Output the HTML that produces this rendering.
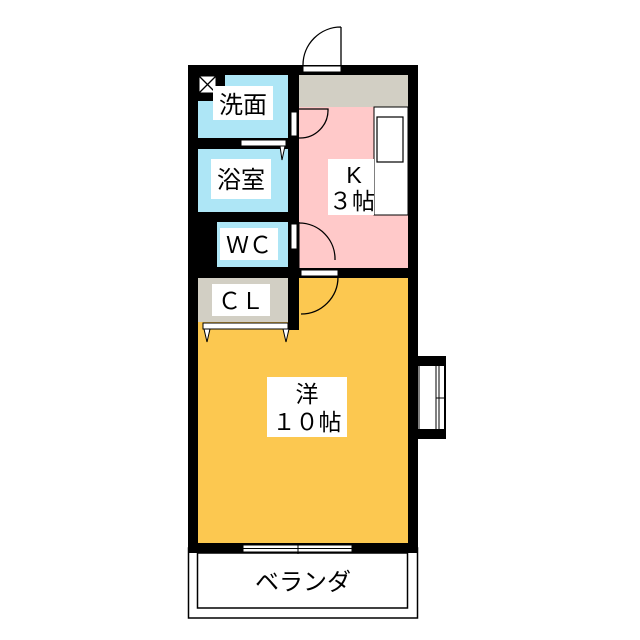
<!DOCTYPE html>
<html><head><meta charset="utf-8"><style>
html,body{margin:0;padding:0;background:#fff;width:640px;height:640px;overflow:hidden}
text{font-family:"Liberation Sans","Noto Sans CJK JP",sans-serif;fill:#000}
</style></head><body>
<svg width="640" height="640" viewBox="0 0 640 640" xmlns="http://www.w3.org/2000/svg">
<rect x="188.5" y="548" width="229" height="70" fill="#fff" stroke="#000" stroke-width="1.5"/>
<rect x="197.5" y="553" width="210" height="55" fill="#fff" stroke="#000" stroke-width="1.5"/>
<rect x="188" y="65" width="230" height="488" fill="#000"/>
<rect x="410" y="356" width="36" height="83" fill="#000"/>
<rect x="418" y="366" width="26" height="63" fill="#fff"/>
<line x1="419" y1="366" x2="419" y2="429" stroke="#000" stroke-width="1"/>
<line x1="436" y1="366" x2="436" y2="429" stroke="#000" stroke-width="1"/>
<line x1="439" y1="366" x2="439" y2="429" stroke="#000" stroke-width="1"/>
<line x1="436" y1="398" x2="444" y2="398" stroke="#000" stroke-width="1"/>
<rect x="299" y="75" width="109" height="32" fill="#d2cfc4"/>
<rect x="299" y="107" width="109" height="161" fill="#ffc9c9"/>
<rect x="198" y="75" width="90" height="63" fill="#aee6f6"/>
<rect x="198" y="149" width="90" height="63" fill="#aee6f6"/>
<rect x="217" y="222" width="71" height="45" fill="#aee6f6"/>
<rect x="198" y="278" width="210" height="265" fill="#fcc850"/>
<rect x="198" y="278" width="90" height="44" fill="#d2cfc4"/>
<rect x="288" y="278" width="11" height="52" fill="#000"/>
<rect x="203" y="323" width="85" height="6" fill="#fff" stroke="#000" stroke-width="1"/>
<path d="M204 329 L207 342 L210 329 Z M283 329 L286 342 L289 329 Z" fill="#fff" stroke="#000" stroke-width="1"/>
<rect x="198" y="75" width="27" height="26" fill="#000"/>
<rect x="199" y="76" width="17" height="17" fill="#fff" stroke="#000" stroke-width="1"/>
<path d="M199 76 L216 93 M216 76 L199 93" stroke="#000" stroke-width="1.3"/>
<rect x="241" y="140" width="45" height="6" fill="#fff" stroke="#000" stroke-width="1"/>
<path d="M280 146 L282 160 L285 146 Z" fill="#fff" stroke="#000" stroke-width="1"/>
<rect x="291" y="112" width="6" height="24" fill="#fff" stroke="#000" stroke-width="1"/>
<path d="M299 109 L328 109 A28 28 0 0 1 299 138" fill="none" stroke="#000" stroke-width="1.3"/>
<rect x="291" y="224" width="6" height="25" fill="#fff" stroke="#000" stroke-width="1"/>
<path d="M299 223 A36 36 0 0 1 335 260" fill="none" stroke="#000" stroke-width="1.3"/>
<line x1="299" y1="222" x2="299" y2="268" stroke="#000" stroke-width="1"/>
<rect x="301" y="270" width="37" height="6" fill="#fff" stroke="#000" stroke-width="1"/>
<path d="M338 277 A37 37 0 0 1 301 314" fill="none" stroke="#000" stroke-width="1.3"/>
<rect x="374" y="107" width="34" height="108" fill="#fff" stroke="#000" stroke-width="1"/>
<rect x="377" y="117" width="26" height="45" fill="#fff" stroke="#000" stroke-width="1.2"/>
<rect x="303" y="66" width="38" height="6" fill="#fff" stroke="#000" stroke-width="1"/>
<path d="M341 27 L341 66 M341 27 A38 38 0 0 0 303 65" fill="none" stroke="#000" stroke-width="1.3"/>
<rect x="243" y="545" width="109" height="7" fill="#fff" stroke="#000" stroke-width="1"/>
<line x1="243" y1="548.5" x2="352" y2="548.5" stroke="#000" stroke-width="1"/>
<line x1="298" y1="543" x2="298" y2="554" stroke="#000" stroke-width="1"/>
<rect x="213" y="86" width="60" height="34" fill="#fff"/>
<text x="243" y="113" font-size="24" text-anchor="middle">洗面</text>
<rect x="211" y="159" width="60" height="40" fill="#fff"/>
<text x="241" y="188" font-size="24" text-anchor="middle">浴室</text>
<rect x="220" y="228" width="58" height="32" fill="#fff"/>
<text x="249" y="253" font-size="23" text-anchor="middle">ＷＣ</text>
<rect x="212" y="284" width="58" height="32" fill="#fff"/>
<text x="241" y="309" font-size="23" text-anchor="middle">ＣＬ</text>
<rect x="328" y="159" width="46" height="56" fill="#fff"/>
<text x="354" y="183" font-size="23" text-anchor="middle">K</text>
<text x="352" y="209" font-size="23" text-anchor="middle">３帖</text>
<rect x="267" y="377" width="80" height="60" fill="#fff"/>
<text x="307" y="402" font-size="23" text-anchor="middle">洋</text>
<text x="307" y="430" font-size="23" text-anchor="middle">１０帖</text>
<text x="303" y="590" font-size="24" text-anchor="middle">ベランダ</text>
</svg>
</body></html>
